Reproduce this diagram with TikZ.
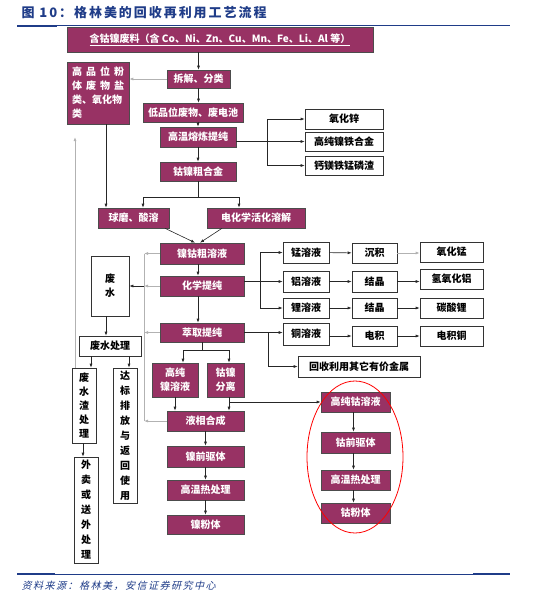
\documentclass[tikz,border=0pt]{standalone}
\usepackage{fontspec}
\setmainfont{Noto Sans CJK SC}
\newfontfamily\srcfont[FakeSlant=0.25,LetterSpace=15]{Noto Sans CJK SC}
\newfontfamily\titlefont[LetterSpace=15]{Noto Sans CJK SC}
\usepackage{xcolor}
\usetikzlibrary{arrows.meta,positioning}
\definecolor{boxpurple}{RGB}{152,50,100}
\definecolor{titleblue}{RGB}{31,60,136}
\tikzset{
  sz/.style 2 args={minimum width=#1pt, minimum height=#2pt},
  pbox/.style={draw=black!70, fill=boxpurple, text=white, inner sep=1pt, line width=0.6pt,
    font=\bfseries\fontsize{10}{14}\selectfont, align=center},
  wbox/.style={draw=black!80, fill=white, text=black, inner sep=1pt, line width=0.6pt,
    font=\bfseries\fontsize{10}{14}\selectfont, align=center},
  vbox/.style={wbox, font=\bfseries\fontsize{10}{15}\selectfont},
  ln/.style={draw=black!85, line width=0.6pt},
  arr/.style={ln, -{Latex[length=4pt,width=3pt]}},
  garr/.style={draw=gray!60, line width=1pt, -{Latex[length=4pt,width=3pt]}},
  gln/.style={draw=gray!60, line width=1pt},
}
\begin{document}
\begin{tikzpicture}[x=1pt,y=-1pt]
\useasboundingbox (0,0) rectangle (540,598);
% title and rules
\node[anchor=west, text=titleblue, font=\titlefont\bfseries\fontsize{13}{15}\selectfont] (title) at (18,13) {图 10：格林美的回收再利用工艺流程};
\draw[titleblue, line width=0.7pt] (17,25.5) -- (510,25.5);
\draw[titleblue, line width=2pt] (17,25.5) -- (57,25.5);
\draw[titleblue, line width=0.7pt] (17,574) -- (510,574);
\draw[titleblue, line width=2pt] (17,574) -- (55,574);
\draw[titleblue, line width=2pt] (473,574) -- (510,574);
\node[anchor=west, text=titleblue, font=\srcfont\fontsize{10}{12}\selectfont] (src) at (18,586) {资料来源：格林美，安信证券研究中心};

% main column
\node[pbox, sz={306}{25}] (feed) at (220,39.5) {\underline{含钴镍废料（含 Co、Ni、Zn、Cu、Mn、Fe、Li、Al 等）}};
\node[pbox, sz={62}{62}, align=left] (hipin) at (98,93) {\makebox[52pt][l]{高\hfill 品\hfill 位\hfill 粉}\\\makebox[52pt][l]{体\hfill 废\hfill 物\hfill 盐}\\\makebox[52pt][l]{类、氧化物}\\类};
\node[pbox, sz={63}{18}] (chai) at (198.5,79) {拆解、分类};
\node[pbox, sz={100}{19}] (dipin) at (193,112.5) {低品位废物、废电池};
\node[pbox, sz={76}{20}] (smelt) at (198,137) {高温熔炼提纯};
\node[pbox, sz={76}{19}] (alloy) at (198,171.5) {钴镍粗合金};
\node[pbox, sz={71}{20}] (mill) at (133.5,218) {球磨、酸溶};
\node[pbox, sz={98}{20}] (elchem) at (256,218) {电化学活化溶解};
\node[pbox, sz={84}{21}] (crude) at (202,253.5) {镍钴粗溶液};
\node[pbox, sz={84}{20}] (chem) at (202,286) {化学提纯};
\node[pbox, sz={84}{19}] (extr) at (202,332.5) {萃取提纯};
\node[pbox, sz={46}{34}] (hNi) at (175,380) {高纯\\镍溶液};
\node[pbox, sz={37}{34}] (sep) at (225.5,380) {钴镍\\分离};
\node[pbox, sz={77}{20}] (liq) at (205.5,421) {液相合成};
\node[pbox, sz={77}{21}] (NiPre) at (205.5,456.5) {镍前驱体};
\node[pbox, sz={77}{20}] (NiHeat) at (205.5,490) {高温热处理};
\node[pbox, sz={77}{19}] (NiPow) at (205.5,524.5) {镍粉体};

% cobalt branch
\node[pbox, sz={69}{20}] (hCo) at (355.5,402) {高纯钴溶液};
\node[pbox, sz={69}{21}] (CoPre) at (355.5,442.5) {钴前驱体};
\node[pbox, sz={69}{20}] (CoHeat) at (355.5,480) {高温热处理};
\node[pbox, sz={69}{20}] (CoPow) at (355.5,513) {钴粉体};
\draw[red, line width=0.8pt] (355,457) ellipse [x radius=48pt, y radius=76pt];

% smelting products
\node[wbox, sz={78}{20}] (ZnO) at (344,119) {氧化锌};
\node[wbox, sz={78}{19}] (NiFe) at (344,141.5) {高纯镍铁合金};
\node[wbox, sz={78}{19}] (slagCa) at (344,165.5) {钙镁铁锰磷渣};

% solution branches
\node[wbox, sz={46}{21}] (Mn) at (306,252.5) {锰溶液};
\node[wbox, sz={46}{21}] (Al) at (306,281.5) {铝溶液};
\node[wbox, sz={46}{20}] (Li) at (306,308) {锂溶液};
\node[wbox, sz={46}{22}] (Cu) at (306,334) {铜溶液};
\node[wbox, sz={45}{20}] (dep) at (374.5,253) {沉积};
\node[wbox, sz={45}{21}] (cryA) at (374.5,281.5) {结晶};
\node[wbox, sz={45}{20}] (cryB) at (374.5,308) {结晶};
\node[wbox, sz={45}{20}] (elw) at (374.5,336) {电积};
\node[wbox, sz={63}{20}] (MnO) at (451.5,252) {氧化锰};
\node[wbox, sz={63}{20}] (AlOH) at (451.5,279) {氢氧化铝};
\node[wbox, sz={63}{20}] (LiC) at (451.5,308) {碳酸锂};
\node[wbox, sz={63}{20}] (CuE) at (451.5,336) {电积铜};
\node[wbox, sz={122}{21}] (other) at (359,366.5) {回收利用其它有价金属};

% waste water
\node[wbox, sz={38}{60}] (ww) at (110,286) {废\\水};
\node[wbox, sz={62}{20}] (wwt) at (110,346) {废水处理};
\node[vbox, sz={24}{75}, font=\bfseries\fontsize{10}{14}\selectfont] (wslag) at (84,405.5) {废\\水\\渣\\处\\理};
\node[vbox, sz={24}{135}] (disc) at (125,435.5) {达\\标\\排\\放\\与\\返\\回\\使\\用};
\node[vbox, sz={24}{106}] (sell) at (86,510) {外\\卖\\或\\送\\外\\处\\理};

\coordinate (znbr) at (267,0);
\coordinate (mnbr) at (260,0);
\coordinate (cubr) at (268,0);
\coordinate (wcol) at (144,0);
\coordinate (ret) at (75,137);

% connectors
\draw[arr] (chai.north |- feed.south) -- (chai.north);
\draw[arr] (chai.south) -- (chai.south |- dipin.north);
\draw[garr] (chai.west) -- (chai.west -| hipin.east);
\draw[arr] (smelt.north |- dipin.south) -- (smelt.north);
\draw[arr] (smelt.south) -- (alloy.north);
\draw[arr] (NiFe.west -| smelt.east) -- (NiFe.west);
\draw[ln] (ZnO.west -| znbr) -- (slagCa.west -| znbr);
\draw[arr] (ZnO.west -| znbr) -- (ZnO.west);
\draw[arr] (slagCa.west -| znbr) -- (slagCa.west);
\draw[ln] (alloy.south) -- ++(0,16) coordinate (asp);
\draw[arr] (asp) -| ([xshift=9.5pt]mill.north);
\draw[arr] (asp) -| ([xshift=-17pt]elchem.north);
\draw[arr] ([xshift=8pt]hipin.south) -- ([xshift=8pt]hipin.south |- mill.north);
\draw[arr] ([xshift=31.5pt]mill.south) -- ([xshift=-7pt]crude.north);
\draw[arr] ([xshift=-34pt]elchem.south) -- ([xshift=-2pt]crude.north);
\draw[arr] ([xshift=-4pt]crude.south) -- ([xshift=-4pt]chem.north);
\draw[arr] ([xshift=-4pt]chem.south) -- ([xshift=-4pt]extr.north);
% chemical purification
\draw[arr] (Al.west -| chem.east) -- (Al.west);
\draw[ln] (Mn.west -| mnbr) -- (Li.west -| mnbr);
\draw[arr] (Mn.west -| mnbr) -- (Mn.west);
\draw[arr] (Li.west -| mnbr) -- (Li.west);
\draw[arr] (Mn) -- (dep);
\draw[garr] (dep) -- (dep -| MnO.west);
\draw[arr] (Al) -- (cryA);
\draw[arr] (cryA) -- (cryA -| AlOH.west);
\draw[arr] (Li) -- (cryB);
\draw[arr] (cryB) -- (LiC);
% extraction
\draw[arr] (extr.east) -- (extr.east -| Cu.west);
\draw[arr] (Cu.east |- elw) -- (elw.west);
\draw[arr] (elw) -- (CuE);
\draw[arr] (extr.east -| cubr) |- (other.west);
\draw[ln] (extr.south) -- ++(0,8) coordinate (esp);
\draw[arr] (esp) -| ([xshift=8pt]hNi.north);
\draw[arr] (esp) -| ([xshift=3.5pt]sep.north);
\draw[arr] (hNi.south) -- (hNi.south |- liq.north);
\draw[arr] ([xshift=3.5pt]sep.south) -- ([xshift=3.5pt]sep.south |- liq.north);
\draw[arr] ([xshift=3.5pt]sep.south |- hCo.west) -- (hCo.west);
\draw[arr] (liq) -- (NiPre);
\draw[arr] (NiPre) -- (NiHeat);
\draw[arr] (NiHeat) -- (NiPow);
\draw[arr] ([xshift=-2pt]hCo.south) -- ([xshift=-2pt]CoPre.north);
\draw[arr] ([xshift=-2pt]CoPre.south) -- ([xshift=-2pt]CoHeat.north);
\draw[arr] ([xshift=-2pt]CoHeat.south) -- ([xshift=-2pt]CoPow.north);
% waste water collection
\draw[gln] (crude.west -| wcol) -- (liq.west -| wcol);
\draw[garr] (crude.west) -- (crude.west -| wcol);
\draw[garr] (chem.west) -- (chem.west -| wcol);
\draw[garr] (extr.west) -- (extr.west -| wcol);
\draw[garr] (liq.west) -- (liq.west -| wcol);
\draw[arr] (chem.west -| wcol) -- (ww.east);
\draw[arr] ([xshift=-4pt]ww.south) -- ([xshift=-4pt]ww.south |- wwt.north);
\draw[arr] ([xshift=7pt]wslag.north |- wwt.south) -- ([xshift=7pt]wslag.north);
\draw[arr] ([xshift=4pt]disc.north |- wwt.south) -- ([xshift=4pt]disc.north);
\draw[arr] ([xshift=-1pt]wslag.south) -- ([xshift=-1pt]wslag.south |- sell.north);
\draw[garr] ([xshift=-9pt]wslag.north) -- (ret);
\end{tikzpicture}
\end{document}
